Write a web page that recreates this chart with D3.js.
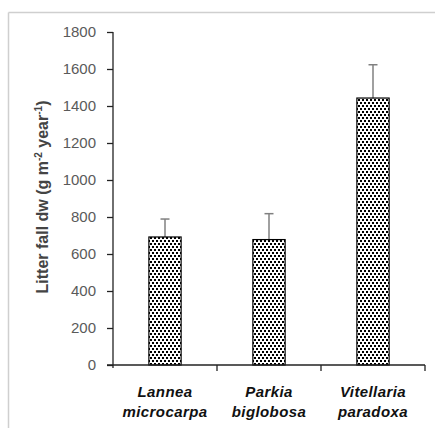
<!DOCTYPE html>
<html><head><meta charset="utf-8">
<script src="https://cdn.jsdelivr.net/npm/d3@7/dist/d3.min.js"></script>
<style>body{margin:0;background:#fff}svg{display:block}</style>
</head><body>
<svg id="c" width="435" height="428"></svg>
<script>
const categories = ["Lannea microcarpa", "Parkia biglobosa", "Vitellaria paradoxa"];
const values = [692, 678, 1443];
const errors = [97, 140, 180];
const yTicks = [0, 200, 400, 600, 800, 1000, 1200, 1400, 1600, 1800];

const svg = d3.select("#c");
const font = "'Liberation Sans', Arial, sans-serif";

// frame lines
svg.append("line").attr("x1", 8.5).attr("x2", 435).attr("y1", 12.5).attr("y2", 12.5).attr("stroke", "#cfcfcf").attr("stroke-width", 1.5);
svg.append("line").attr("x1", 8.5).attr("x2", 8.5).attr("y1", 12.5).attr("y2", 428).attr("stroke", "#cfcfcf").attr("stroke-width", 1.5);

// pattern
const defs = svg.append("defs");
const pat = defs.append("pattern").attr("id", "dots").attr("patternUnits", "userSpaceOnUse")
  .attr("width", 4).attr("height", 6);
pat.append("rect").attr("width", 4).attr("height", 6).attr("fill", "#fff");
pat.append("rect").attr("x", 0).attr("y", 0).attr("width", 2).attr("height", 2).attr("fill", "#000");
pat.append("rect").attr("x", 2).attr("y", 3).attr("width", 2).attr("height", 2).attr("fill", "#000");

const x = d3.scaleBand().domain(categories).range([113, 425]).padding(0);
const y = d3.scaleLinear().domain([0, 1800]).range([365, 32]);
const bw = x.bandwidth() * 0.31;

// bars
const g = svg.append("g");
categories.forEach((c, i) => {
  const cx = x(c) + x.bandwidth() / 2;
  g.append("line").attr("x1", cx).attr("x2", cx).attr("y1", y(values[i] + errors[i])).attr("y2", y(values[i]) + 2)
    .attr("stroke", "#808080").attr("stroke-width", 1.5);
  g.append("line").attr("x1", cx - 4.5).attr("x2", cx + 4.5).attr("y1", y(values[i] + errors[i])).attr("y2", y(values[i] + errors[i]))
    .attr("stroke", "#808080").attr("stroke-width", 1.5);
  g.append("rect").attr("x", cx - bw / 2).attr("y", y(values[i])).attr("width", bw).attr("height", y(0) - y(values[i]))
    .attr("fill", "url(#dots)").attr("stroke", "#000").attr("stroke-width", 1.2);
});

// y axis
const yAxis = d3.axisLeft(y).tickValues(yTicks).tickFormat(d3.format("d")).tickSize(6).tickSizeOuter(0).tickPadding(11);
const ya = svg.append("g").attr("transform", "translate(113,0)").call(yAxis);
ya.select(".domain").attr("d", "M0,32V368").attr("stroke", "#222").attr("stroke-width", 1.3);
ya.selectAll(".tick line").attr("stroke", "#222").attr("stroke-width", 1.3);
ya.selectAll(".tick text").attr("font-family", font).attr("font-size", 15).attr("fill", "#5a5a5a");

// x axis
const xa = svg.append("g").attr("transform", "translate(0,365)");
xa.append("line").attr("x1", 107).attr("x2", 425).attr("y1", 0).attr("y2", 0).attr("stroke", "#222").attr("stroke-width", 1.3);
categories.forEach(c => {
  const xe = x(c) + x.bandwidth();
  xa.append("line").attr("x1", xe).attr("x2", xe).attr("y1", 0).attr("y2", 6).attr("stroke", "#222").attr("stroke-width", 1.3);
});
categories.forEach(c => {
  const cx = x(c) + x.bandwidth() / 2;
  const parts = c.split(" ");
  parts.forEach((p, j) => {
    xa.append("text").attr("x", cx).attr("y", 32 + j * 20).attr("text-anchor", "middle")
      .attr("font-family", font).attr("font-size", 15).attr("font-weight", "bold").attr("font-style", "italic")
      .attr("letter-spacing", 0.4).attr("fill", "#111").text(p);
  });
});

// y title
const t = svg.append("text").attr("transform", "translate(48,197) rotate(-90)").attr("text-anchor", "middle")
  .attr("font-family", font).attr("font-size", 16).attr("font-weight", "bold").attr("fill", "#444");
t.append("tspan").text("Litter fall dw (g m");
t.append("tspan").attr("dy", -6).attr("font-size", 10).text("-2");
t.append("tspan").attr("dy", 6).text(" year");
t.append("tspan").attr("dy", -6).attr("font-size", 10).text("-1");
t.append("tspan").attr("dy", 6).text(")");
</script>
</body></html>
